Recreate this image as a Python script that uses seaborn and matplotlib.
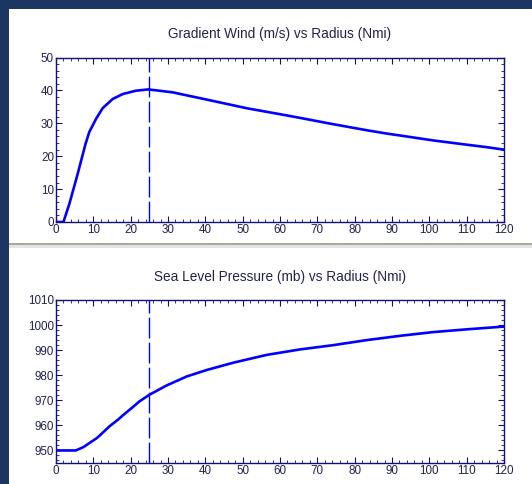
import matplotlib
matplotlib.use("Agg")
import matplotlib.pyplot as plt
import seaborn as sns
import pandas as pd
from matplotlib.patches import Rectangle
from matplotlib.ticker import MultipleLocator

# ---- data ----
wind_radius = [0, 0.5, 2.0, 3.6, 5.8, 7.9, 8.9, 10.7, 12.5, 15.2, 17.9, 21.4, 24.7,
               27.0, 31.3, 35.0, 40.4, 45.7, 51.0, 56.4, 61.8, 67.0, 72.5, 77.8, 83.2, 88.5,
               93.9, 101.0, 110.0, 115.0, 120.0]
wind_speed = [0.0, 0.0, 0.0, 5.6, 14.6, 23.7, 27.3, 31.3, 34.6, 37.4, 38.9, 39.9, 40.3,
              40.0, 39.4, 38.5, 37.2, 35.9, 34.6, 33.5, 32.4, 31.3, 30.1, 29.0, 27.9, 26.9,
              26.0, 24.8, 23.5, 22.8, 22.0]

pres_radius = [0, 2.5, 5.3, 7.3, 8.9, 10.9, 11.6, 14.3, 16.7, 17.9, 20.5, 22.3, 25.0, 29.6,
               35.0, 40.4, 47.5, 56.4, 65.4, 74.3, 83.2, 92.1, 101.0, 110.0, 120.0]
pressure = [950.0, 950.0, 950.0, 951.3, 952.9, 954.9, 955.8, 959.6, 962.4, 964.0, 967.2, 969.5, 972.2, 975.9,
            979.5, 982.1, 985.0, 988.1, 990.3, 992.0, 994.0, 995.7, 997.2, 998.3, 999.4]

rmw = 25  # radius of maximum wind (dashed marker)

titles = ["Gradient Wind (m/s) vs Radius (Nmi)", "Sea Level Pressure (mb) vs Radius (Nmi)"]

# ---- styling ----
sns.set_style("white")
plt.rcParams["font.family"] = ["Liberation Sans", "DejaVu Sans"]

NAVY_BG = "#1d3563"
TXT = "#22224e"
SPINE = "#10107a"
LINE = "#0000ff"

W, H = 532, 484
fig = plt.figure(figsize=(W / 100, H / 100), dpi=100, facecolor=NAVY_BG)

def px_rect(x0, y0, x1, y1, color):
    fig.patches.append(Rectangle((x0 / W, 1 - y1 / H), (x1 - x0) / W, (y1 - y0) / H,
                                 transform=fig.transFigure, facecolor=color,
                                 edgecolor="none", zorder=-10))

px_rect(9, 9, W, 243, "white")
px_rect(9, 243, W, 245, "#a8a8a0")
px_rect(9, 245, W, 248, "#e4e4e0")
px_rect(9, 248, W, H, "white")

ax1 = fig.add_axes([56 / W, 1 - 222 / H, 448 / W, 164.5 / H])
ax2 = fig.add_axes([56 / W, 1 - 463 / H, 448 / W, 163 / H])

df_w = pd.DataFrame({"r": wind_radius, "v": wind_speed})
df_p = pd.DataFrame({"r": pres_radius, "p": pressure})

sns.lineplot(data=df_w, x="r", y="v", ax=ax1, color=LINE, lw=1.9)
sns.lineplot(data=df_p, x="r", y="p", ax=ax2, color=LINE, lw=1.9)

for ax, ylim, title in [(ax1, (0, 50), titles[0]), (ax2, (945, 1010), titles[1])]:
    ax.set_facecolor("white")
    ax.axvline(rmw, color=LINE, lw=1.0, ls=(0, (15, 3)))
    ax.set_xlim(0, 120)
    ax.set_ylim(*ylim)
    ax.xaxis.set_major_locator(MultipleLocator(10))
    ax.xaxis.set_minor_locator(MultipleLocator(2))
    ax.yaxis.set_major_locator(MultipleLocator(10))
    ax.yaxis.set_minor_locator(MultipleLocator(2))
    ax.tick_params(which="both", direction="in", top=True, right=True, bottom=True, left=True,
                   colors=SPINE, labelcolor=TXT, labelsize=8.4, pad=1.5)
    ax.tick_params(which="major", length=4, width=0.8)
    ax.tick_params(which="minor", length=2, width=0.6)
    for s in ax.spines.values():
        s.set_visible(True)
        s.set_color(SPINE)
        s.set_linewidth(1.0)
    ax.set_xlabel("")
    ax.set_ylabel("")
    ax.set_title(title, color=TXT, fontsize=9.8, pad=14)

fig.savefig("out.png", dpi=100, facecolor=NAVY_BG)
